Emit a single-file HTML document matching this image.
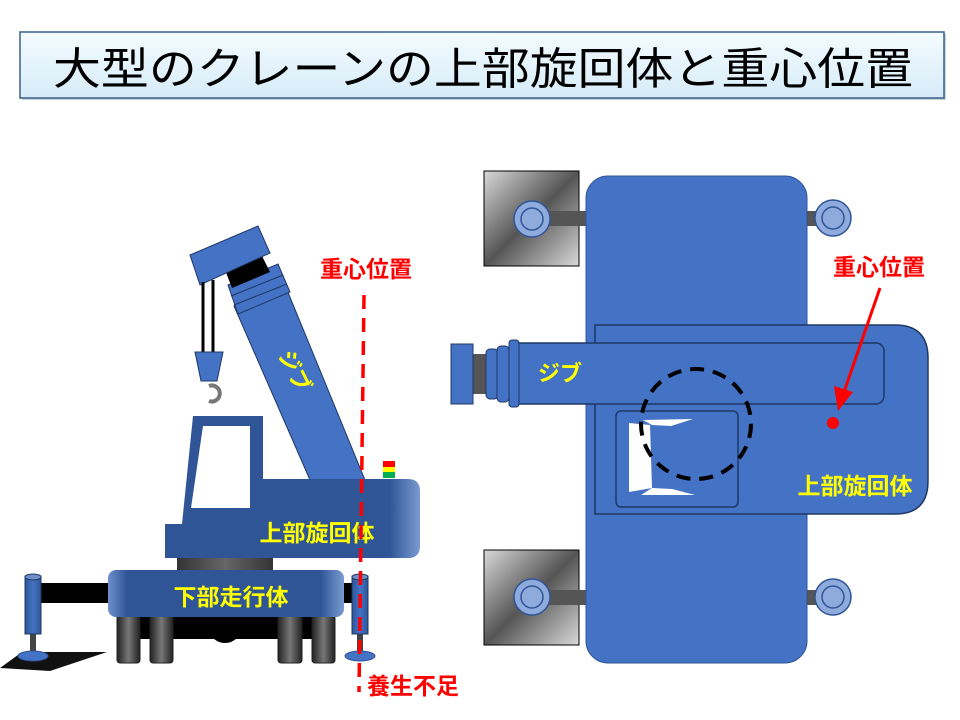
<!DOCTYPE html>
<html><head><meta charset="utf-8"><style>html,body{margin:0;padding:0;background:#fff}svg{display:block}</style></head>
<body>
<svg width="960" height="720" viewBox="0 0 960 720" xmlns="http://www.w3.org/2000/svg" font-family="'Liberation Sans','Noto Sans CJK JP',sans-serif">
<defs>
<linearGradient id="tg" x1="0" y1="0" x2="0" y2="1"><stop offset="0" stop-color="#f4fbff"/><stop offset="1" stop-color="#d6ecf8"/></linearGradient>
<linearGradient id="bodyg" x1="0" y1="0" x2="1" y2="0"><stop offset="0" stop-color="#2f5597"/><stop offset="0.88" stop-color="#2f5597"/><stop offset="1" stop-color="#7a9bd0"/></linearGradient>
<linearGradient id="lowg" x1="0" y1="0" x2="1" y2="0"><stop offset="0" stop-color="#6f8fca"/><stop offset="0.08" stop-color="#2f5597"/><stop offset="0.9" stop-color="#2f5597"/><stop offset="1" stop-color="#7a9bd0"/></linearGradient>
<linearGradient id="wg" x1="0" y1="0" x2="1" y2="0"><stop offset="0" stop-color="#222"/><stop offset="0.5" stop-color="#777"/><stop offset="1" stop-color="#222"/></linearGradient>
<linearGradient id="ttg" x1="0" y1="0" x2="1" y2="0"><stop offset="0" stop-color="#333"/><stop offset="0.5" stop-color="#666"/><stop offset="1" stop-color="#333"/></linearGradient>
<linearGradient id="pg" x1="0" y1="0" x2="1" y2="1"><stop offset="0" stop-color="#d9d9d9"/><stop offset="0.5" stop-color="#555"/><stop offset="1" stop-color="#d9d9d9"/></linearGradient>
<linearGradient id="colg" x1="0" y1="0" x2="1" y2="0"><stop offset="0" stop-color="#2f5597"/><stop offset="0.5" stop-color="#4472c4"/><stop offset="1" stop-color="#2f5597"/></linearGradient>
</defs>

<rect x="22" y="34" width="924" height="66" fill="#8aa" opacity="0.5"/>
<rect x="20" y="32" width="924" height="66" fill="url(#tg)" stroke="#3a5f8a" stroke-width="1.5"/>
<text x="53" y="84" font-size="44" textLength="860" lengthAdjust="spacingAndGlyphs" fill="#000">大型のクレーンの上部旋回体と重心位置</text>

<polygon points="0,668 22,652 107,652 50,671" fill="#111"/>
<rect x="40" y="583" width="70" height="20" fill="#000"/>
<rect x="340" y="583" width="20" height="20" fill="#000"/>
<rect x="140" y="617" width="195" height="22" fill="#000"/>
<circle cx="225" cy="626" r="17" fill="#000"/>
<rect x="117" y="615" width="23" height="48" rx="3" fill="url(#wg)" stroke="#222"/>
<rect x="150" y="615" width="23" height="48" rx="3" fill="url(#wg)" stroke="#222"/>
<rect x="278" y="615" width="24" height="48" rx="3" fill="url(#wg)" stroke="#222"/>
<rect x="312" y="615" width="23" height="48" rx="3" fill="url(#wg)" stroke="#222"/>
<rect x="30" y="632" width="6" height="20" fill="#444"/>
<ellipse cx="33" cy="656" rx="15" ry="5" fill="#4472c4" stroke="#2f5597"/>
<rect x="25" y="576" width="16" height="58" fill="url(#colg)" stroke="#1f3864"/>
<ellipse cx="33" cy="577" rx="8" ry="3" fill="#6f8fca" stroke="#1f3864"/>
<rect x="357" y="632" width="6" height="20" fill="#444"/>
<ellipse cx="360" cy="656" rx="15" ry="5" fill="#4472c4" stroke="#2f5597"/>
<rect x="352" y="576" width="16" height="58" fill="url(#colg)" stroke="#1f3864"/>
<ellipse cx="360" cy="577" rx="8" ry="3" fill="#6f8fca" stroke="#1f3864"/>
<rect x="177" y="556" width="96" height="16" fill="url(#ttg)"/>
<rect x="108" y="570" width="236" height="47" rx="8" fill="url(#lowg)"/>
<text x="231" y="605" font-size="23" font-weight="bold" fill="#ffff00" text-anchor="middle">下部走行体</text>
<polygon points="234,306 285,285 365,480 310,480" fill="#4472c4" stroke="#1f3864" stroke-width="1"/>
<polygon points="228,285 278,264 290,292 238,314" fill="#4472c4" stroke="#1f3864"/>
<line x1="231" y1="296" x2="283" y2="275" stroke="#1f3864"/>
<line x1="234" y1="305" x2="287" y2="284" stroke="#1f3864"/>
<polygon points="222,262 258,248 270,272 232,288" fill="#000"/>
<polygon points="190,255 258,226 270,253 200,285" fill="#4472c4" stroke="#1f3864"/>
<text x="0" y="0" font-size="22" font-weight="bold" fill="#ffff00" transform="translate(278,355) rotate(63)">ジブ</text>
<line x1="203" y1="282" x2="203" y2="352" stroke="#000" stroke-width="3"/>
<line x1="213" y1="280" x2="213" y2="352" stroke="#000" stroke-width="3"/>
<polygon points="195,352 223,352 217,381 201,381" fill="#4472c4" stroke="#1f3864"/>
<path d="M205,386 A8,8 0 1 1 205,401" fill="none" stroke="#777" stroke-width="4" transform="translate(4,0)"/>
<path d="M165,524 L182,524 L193,416 L263,416 L263,479 L408,479 Q420,479 420,491 L420,546 Q420,558 408,558 L165,558 Z" fill="url(#bodyg)"/>
<polygon points="203,426 250,426 250,508 191,508" fill="#fff"/>
<text x="317" y="541" font-size="23" font-weight="bold" fill="#ffff00" text-anchor="middle">上部旋回体</text>
<rect x="383" y="461" width="12" height="6" fill="#ff0000"/>
<rect x="383" y="467" width="12" height="5" fill="#ffff00"/>
<rect x="383" y="472" width="12" height="6" fill="#00b050"/>
<line x1="364" y1="295" x2="359" y2="692" stroke="#ff0000" stroke-width="3.5" stroke-dasharray="14,9"/>
<text x="366" y="277" font-size="23" font-weight="bold" fill="#ff0000" text-anchor="middle">重心位置</text>
<text x="367" y="694" font-size="23" font-weight="bold" fill="#ff0000">養生不足</text>

<rect x="484" y="171" width="95" height="95" fill="url(#pg)" stroke="#000"/>
<rect x="484" y="550" width="95" height="95" fill="url(#pg)" stroke="#000"/>
<rect x="540" y="211" width="48" height="15" fill="#555"/>
<rect x="540" y="590" width="48" height="15" fill="#555"/>
<rect x="805" y="211" width="14" height="15" fill="#555"/>
<rect x="805" y="590" width="14" height="15" fill="#555"/>
<rect x="586" y="176" width="221" height="487" rx="22" fill="#4472c4" stroke="#2f5597"/>
<g fill="#8faadc" stroke="#2f5597" stroke-width="1.5">
<circle cx="532" cy="219" r="18"/><circle cx="532" cy="219" r="11"/>
<circle cx="833" cy="218" r="18"/><circle cx="833" cy="218" r="11"/>
<circle cx="532" cy="597" r="18"/><circle cx="532" cy="597" r="11"/>
<circle cx="833" cy="597" r="18"/><circle cx="833" cy="597" r="11"/>
</g>
<path d="M595,325 L895,325 Q928,325 928,358 L928,481 Q928,514 895,514 L595,514 Z" fill="#4472c4" stroke="#1f3864" stroke-width="1.5"/>
<rect x="616" y="411" width="122" height="96" rx="5" fill="#4472c4" stroke="#1f3864" stroke-width="1.5"/>
<polygon points="629,423 650,425 652,488 629,492" fill="#fff"/>
<polygon points="643,420 693,419 671,426 652,425" fill="#fff"/>
<polygon points="641,495 695,495 672,489 652,488" fill="#fff"/>
<rect x="508" y="343" width="376" height="61" rx="8" fill="#4472c4" stroke="#1f3864" stroke-width="1.5"/>
<rect x="473" y="354" width="16" height="40" fill="#555"/>
<rect x="486" y="349" width="12" height="50" rx="4" fill="#4472c4" stroke="#1f3864"/>
<rect x="497" y="346" width="12" height="56" rx="4" fill="#4472c4" stroke="#1f3864"/>
<rect x="509" y="340" width="10" height="67" rx="3" fill="#4472c4" stroke="#1f3864"/>
<rect x="451" y="344" width="22" height="60" fill="#4472c4" stroke="#1f3864"/>
<text x="560" y="381" font-size="22" font-weight="bold" fill="#ffff00" text-anchor="middle">ジブ</text>
<circle cx="696" cy="424" r="55" fill="none" stroke="#000" stroke-width="4" stroke-dasharray="14,9"/>
<text x="855" y="494" font-size="23" font-weight="bold" fill="#ffff00" text-anchor="middle">上部旋回体</text>
<circle cx="833" cy="423" r="6" fill="#ff0000"/>
<line x1="880" y1="288" x2="844" y2="392" stroke="#ff0000" stroke-width="3"/>
<polygon points="838,411 834,386 853,392" fill="#ff0000"/>
<text x="879" y="275" font-size="23" font-weight="bold" fill="#ff0000" text-anchor="middle">重心位置</text>
</svg>
</body></html>
